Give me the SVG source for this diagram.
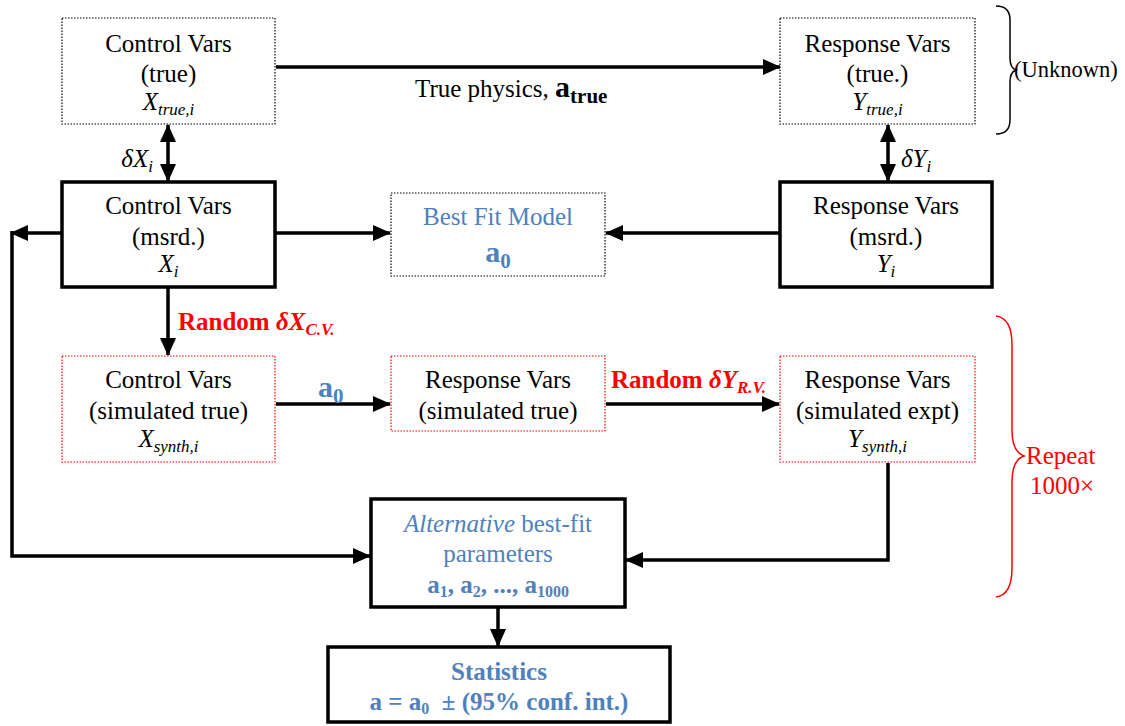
<svg xmlns="http://www.w3.org/2000/svg" width="1125" height="726" viewBox="0 0 1125 726" font-family="'Liberation Serif', 'Times New Roman', serif">
<style>
text{font-family:'Liberation Serif','Times New Roman',serif;font-size:25px;fill:#000}
.c{text-anchor:middle}
.b{fill:#4F81BD}
.r{fill:#FF0000}
.bd{font-weight:bold}
.it{font-style:italic}
.big{font-size:30px}
.dot{fill:#fff;stroke:#000;stroke-width:1.2;stroke-dasharray:1.5 1.5}
.rdot{fill:#fff;stroke:#FF0000;stroke-width:1.2;stroke-dasharray:1.5 1.5}
.thk{fill:#fff;stroke:#000;stroke-width:3.5}
.ln{fill:none;stroke:#000;stroke-width:3.5}
</style>
<defs>
<marker id="ah" markerUnits="userSpaceOnUse" markerWidth="18" markerHeight="18" viewBox="0 0 18 18" refX="17" refY="9" orient="auto-start-reverse">
<path d="M0,1 L18,9 L0,17 Z" fill="#000"/>
</marker>
</defs>

<g id="connectors">
<line class="ln" x1="276" y1="67" x2="780" y2="67" marker-end="url(#ah)"/>
<line class="ln" x1="168" y1="125" x2="168" y2="181" marker-start="url(#ah)" marker-end="url(#ah)"/>
<line class="ln" x1="888" y1="125" x2="888" y2="181" marker-start="url(#ah)" marker-end="url(#ah)"/>
<line class="ln" x1="276" y1="233" x2="390" y2="233" marker-end="url(#ah)"/>
<line class="ln" x1="780" y1="233" x2="606" y2="233" marker-end="url(#ah)"/>
<line class="ln" x1="62" y1="233" x2="11" y2="233" marker-end="url(#ah)"/>
<path class="ln" d="M12,231 V556 H370" marker-end="url(#ah)"/>
<line class="ln" x1="168" y1="288" x2="168" y2="355" marker-end="url(#ah)"/>
<line class="ln" x1="276" y1="404" x2="390" y2="404" marker-end="url(#ah)"/>
<line class="ln" x1="606" y1="404" x2="779" y2="404" marker-end="url(#ah)"/>
<path class="ln" d="M888,463 V560 H626" marker-end="url(#ah)"/>
<line class="ln" x1="498" y1="608" x2="498" y2="646" marker-end="url(#ah)"/>
<text x="415" y="97">True physics, <tspan class="bd" font-size="30">a</tspan><tspan class="bd" font-size="21" dy="6">true</tspan></text>
<text x="153" y="167" text-anchor="end" class="it">δX<tspan font-size="17" dy="5">i</tspan></text>
<text x="901" y="167" class="it">δY<tspan font-size="17" dy="5">i</tspan></text>
<text x="178" y="330" class="r bd">Random <tspan class="it">δX</tspan><tspan class="it" font-size="17" dy="5">C.V.</tspan></text>
<text x="318" y="397" class="b bd big">a<tspan font-size="21" dy="6">0</tspan></text>
<text x="611" y="388" class="r bd">Random <tspan class="it">δY</tspan><tspan class="it" font-size="17" dy="5">R.V.</tspan></text>
</g>

<g id="n-control-true">
<rect class="dot" x="62" y="18" width="213" height="106"/>
<text class="c" x="168.5" y="52">Control Vars</text>
<text class="c" x="168.5" y="82">(true)</text>
<text class="c it" x="168.5" y="110">X<tspan font-size="17" dy="5">true,i</tspan></text>
</g>

<g id="n-response-true">
<rect class="dot" x="780" y="18" width="195" height="106"/>
<text class="c" x="877.5" y="52">Response Vars</text>
<text class="c" x="877.5" y="82">(true.)</text>
<text class="c it" x="877.5" y="110">Y<tspan font-size="17" dy="5">true,i</tspan></text>
</g>

<g id="n-control-msrd">
<rect class="thk" x="62" y="182" width="213" height="105"/>
<text class="c" x="168.5" y="214">Control Vars</text>
<text class="c" x="168.5" y="245">(msrd.)</text>
<text class="c it" x="168.5" y="272">X<tspan font-size="17" dy="5">i</tspan></text>
</g>

<g id="n-bestfit">
<rect class="dot" x="391" y="193" width="214" height="83"/>
<text class="c b" x="498" y="225">Best Fit Model</text>
<text class="c b bd big" x="498" y="262">a<tspan font-size="21" dy="6">0</tspan></text>
</g>

<g id="n-response-msrd">
<rect class="thk" x="780" y="182" width="212" height="105"/>
<text class="c" x="886" y="214">Response Vars</text>
<text class="c" x="886" y="245">(msrd.)</text>
<text class="c it" x="886" y="272">Y<tspan font-size="17" dy="5">i</tspan></text>
</g>

<g id="n-control-sim">
<rect class="rdot" x="62" y="356" width="213" height="106"/>
<text class="c" x="168.5" y="388">Control Vars</text>
<text class="c" x="168.5" y="419">(simulated true)</text>
<text class="c it" x="168.5" y="447">X<tspan font-size="17" dy="5">synth,i</tspan></text>
</g>

<g id="n-response-sim">
<rect class="rdot" x="391" y="356" width="214" height="75"/>
<text class="c" x="498" y="388">Response Vars</text>
<text class="c" x="498" y="419">(simulated true)</text>
</g>

<g id="n-response-expt">
<rect class="rdot" x="780" y="356" width="195" height="106"/>
<text class="c" x="877.5" y="388">Response Vars</text>
<text class="c" x="877.5" y="419">(simulated expt)</text>
<text class="c it" x="877.5" y="447">Y<tspan font-size="17" dy="5">synth,i</tspan></text>
</g>

<g id="n-alternative">
<rect class="thk" x="371" y="499" width="254" height="108"/>
<text class="c b" x="498" y="532"><tspan class="it">Alternative</tspan> best-fit</text>
<text class="c b" x="498" y="562">parameters</text>
<text class="c b bd" x="498" y="593">a<tspan font-size="16" dy="4">1</tspan><tspan dy="-4">, a</tspan><tspan font-size="16" dy="4">2</tspan><tspan dy="-4">, ..., a</tspan><tspan font-size="16" dy="4">1000</tspan></text>
</g>

<g id="n-statistics">
<rect class="thk" x="328" y="647" width="342" height="75"/>
<text class="c b bd" x="499" y="680">Statistics</text>
<text class="c b bd" x="499" y="710" xml:space="preserve">a = a<tspan font-size="16" dy="4">0</tspan><tspan dy="-4">  ± (95% conf. int.)</tspan></text>
</g>

<g id="brace-unknown">
<path d="M996,6 Q1010,6 1010,20 V58 Q1010,68 1016,70 Q1010,72 1010,82 V120 Q1010,134 996,134" fill="none" stroke="#000" stroke-width="1.5"/>
<text x="1014" y="77" style="font-size:22.5px">(Unknown)</text>
</g>

<g id="brace-repeat">
<path d="M996,316 Q1012,318 1012,345 V430 Q1012,452 1024,456 Q1012,460 1012,482 V568 Q1012,595 996,597" fill="none" stroke="#FF0000" stroke-width="1.5"/>
<text class="r" x="1026" y="464">Repeat</text>
<text class="r" x="1030" y="494">1000×</text>
</g>
</svg>
